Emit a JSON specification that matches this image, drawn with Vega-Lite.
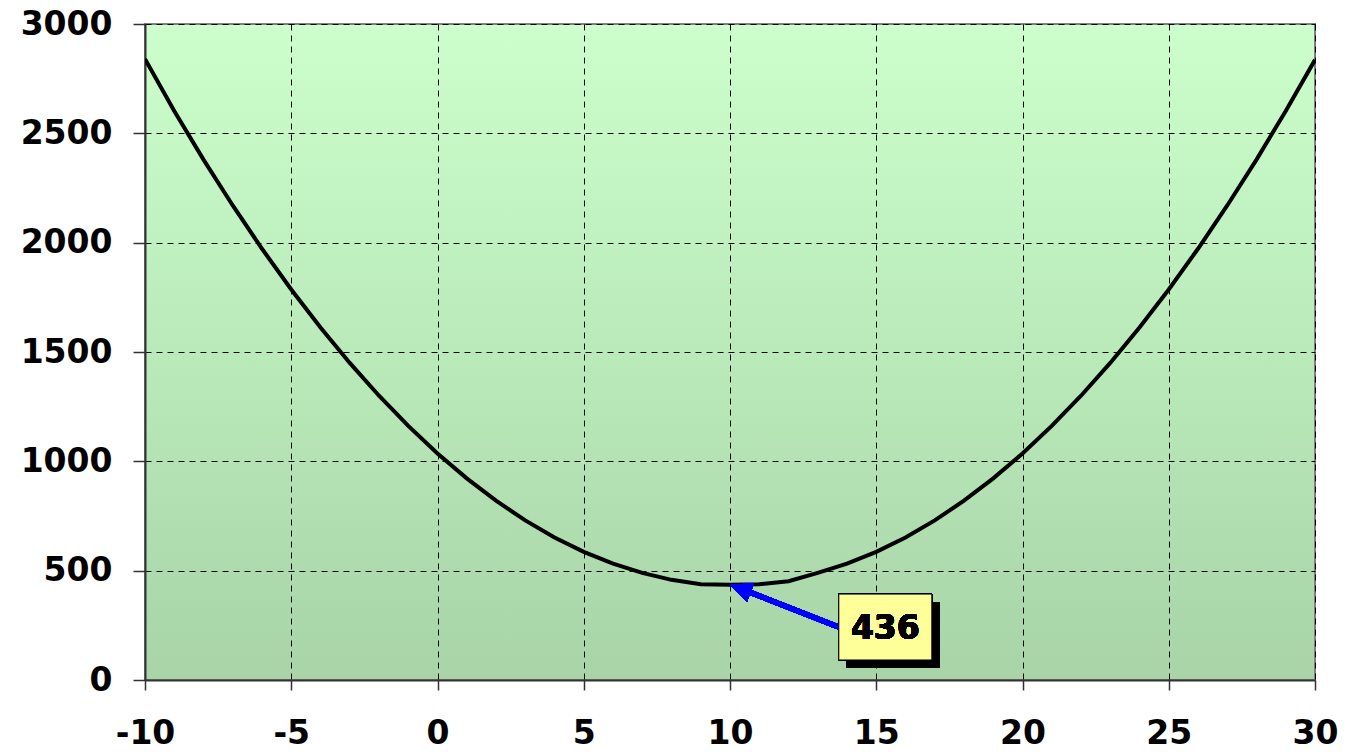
{
  "$schema": "https://vega.github.io/schema/vega-lite/v6.json",
  "width": 1170,
  "height": 656,
  "autosize": {"type": "none"},
  "padding": {"left": 145, "top": 24, "right": 30, "bottom": 72},
  "background": "white",
  "config": {
    "view": {
      "stroke": "#808080",
      "strokeWidth": 2,
      "fill": {
        "gradient": "linear", "x1": 0, "y1": 0, "x2": 0, "y2": 1,
        "stops": [{"offset": 0, "color": "#CCFFCC"}, {"offset": 1, "color": "#A8D4A8"}]
      }
    },
    "axis": {
      "labelFont": "DejaVu Sans",
      "labelFontSize": 33,
      "labelFontWeight": "bold",
      "labelColor": "black",
      "domainColor": "#333333",
      "domainWidth": 2,
      "tickColor": "#333333",
      "tickWidth": 1.5,
      "gridColor": "black",
      "gridOpacity": 1,
      "gridWidth": 1,
      "gridDash": [6, 5],
      "title": null,
      "labelExpr": "datum.value < 0 ? '-' + abs(datum.value) : '' + datum.value"
    }
  },
  "data": {
    "values": [
      {"x": -10, "y": 2840}, {"x": -9, "y": 2602}, {"x": -8, "y": 2380}, {"x": -7, "y": 2170},
      {"x": -6, "y": 1972}, {"x": -5, "y": 1786}, {"x": -4, "y": 1612}, {"x": -3, "y": 1450},
      {"x": -2, "y": 1300}, {"x": -1, "y": 1162}, {"x": 0, "y": 1036}, {"x": 1, "y": 922},
      {"x": 2, "y": 820}, {"x": 3, "y": 730}, {"x": 4, "y": 652}, {"x": 5, "y": 586},
      {"x": 6, "y": 532}, {"x": 7, "y": 490}, {"x": 8, "y": 458}, {"x": 9, "y": 438},
      {"x": 10, "y": 436}, {"x": 11, "y": 438}, {"x": 12, "y": 452}, {"x": 13, "y": 490},
      {"x": 14, "y": 532}, {"x": 15, "y": 586}, {"x": 16, "y": 652}, {"x": 17, "y": 730},
      {"x": 18, "y": 820}, {"x": 19, "y": 922}, {"x": 20, "y": 1036}, {"x": 21, "y": 1162},
      {"x": 22, "y": 1300}, {"x": 23, "y": 1450}, {"x": 24, "y": 1612}, {"x": 25, "y": 1786},
      {"x": 26, "y": 1972}, {"x": 27, "y": 2170}, {"x": 28, "y": 2380}, {"x": 29, "y": 2602},
      {"x": 30, "y": 2836}
    ]
  },
  "layer": [
    {
      "mark": {"type": "line", "color": "black", "strokeWidth": 4, "clip": true},
      "encoding": {
        "x": {
          "field": "x", "type": "quantitative",
          "scale": {"domain": [-10, 30], "nice": false, "zero": false},
          "axis": {"values": [-10, -5, 0, 5, 10, 15, 20, 25, 30], "tickSize": 10, "labelPadding": 27, "grid": true, "labelFlush": false}
        },
        "y": {
          "field": "y", "type": "quantitative",
          "scale": {"domain": [0, 3000], "nice": false},
          "axis": {"values": [0, 500, 1000, 1500, 2000, 2500, 3000], "tickSize": 12, "labelPadding": 21, "grid": true}
        }
      }
    },
    {
      "mark": {"type": "rule", "color": "blue", "strokeWidth": 5},
      "encoding": {
        "x": {"datum": 13.72, "type": "quantitative"},
        "y": {"datum": 242, "type": "quantitative"},
        "x2": {"datum": 10.32},
        "y2": {"datum": 420}
      }
    },
    {
      "mark": {"type": "point", "shape": "M0,0L-0.9,2L0.9,2Z", "filled": true, "color": "blue", "opacity": 1, "size": 480, "angle": 290.6},
      "encoding": {
        "x": {"datum": 10, "type": "quantitative"},
        "y": {"datum": 436, "type": "quantitative"}
      }
    },
    {
      "mark": {"type": "rect", "fill": "black", "xOffset": 8, "x2Offset": 8, "yOffset": 8, "y2Offset": 8},
      "encoding": {
        "x": {"datum": 13.72, "type": "quantitative"},
        "x2": {"datum": 16.9},
        "y": {"datum": 91.5, "type": "quantitative"},
        "y2": {"datum": 393}
      }
    },
    {
      "mark": {"type": "rect", "fill": "#FFFF99", "stroke": "black", "strokeWidth": 1},
      "encoding": {
        "x": {"datum": 13.72, "type": "quantitative"},
        "x2": {"datum": 16.9},
        "y": {"datum": 91.5, "type": "quantitative"},
        "y2": {"datum": 393}
      }
    },
    {
      "mark": {"type": "text", "text": "436", "font": "DejaVu Sans", "fontSize": 33, "fontWeight": "bold", "color": "black", "align": "center", "baseline": "middle", "dy": 2},
      "encoding": {
        "x": {"datum": 15.31, "type": "quantitative"},
        "y": {"datum": 242, "type": "quantitative"}
      }
    }
  ]
}
